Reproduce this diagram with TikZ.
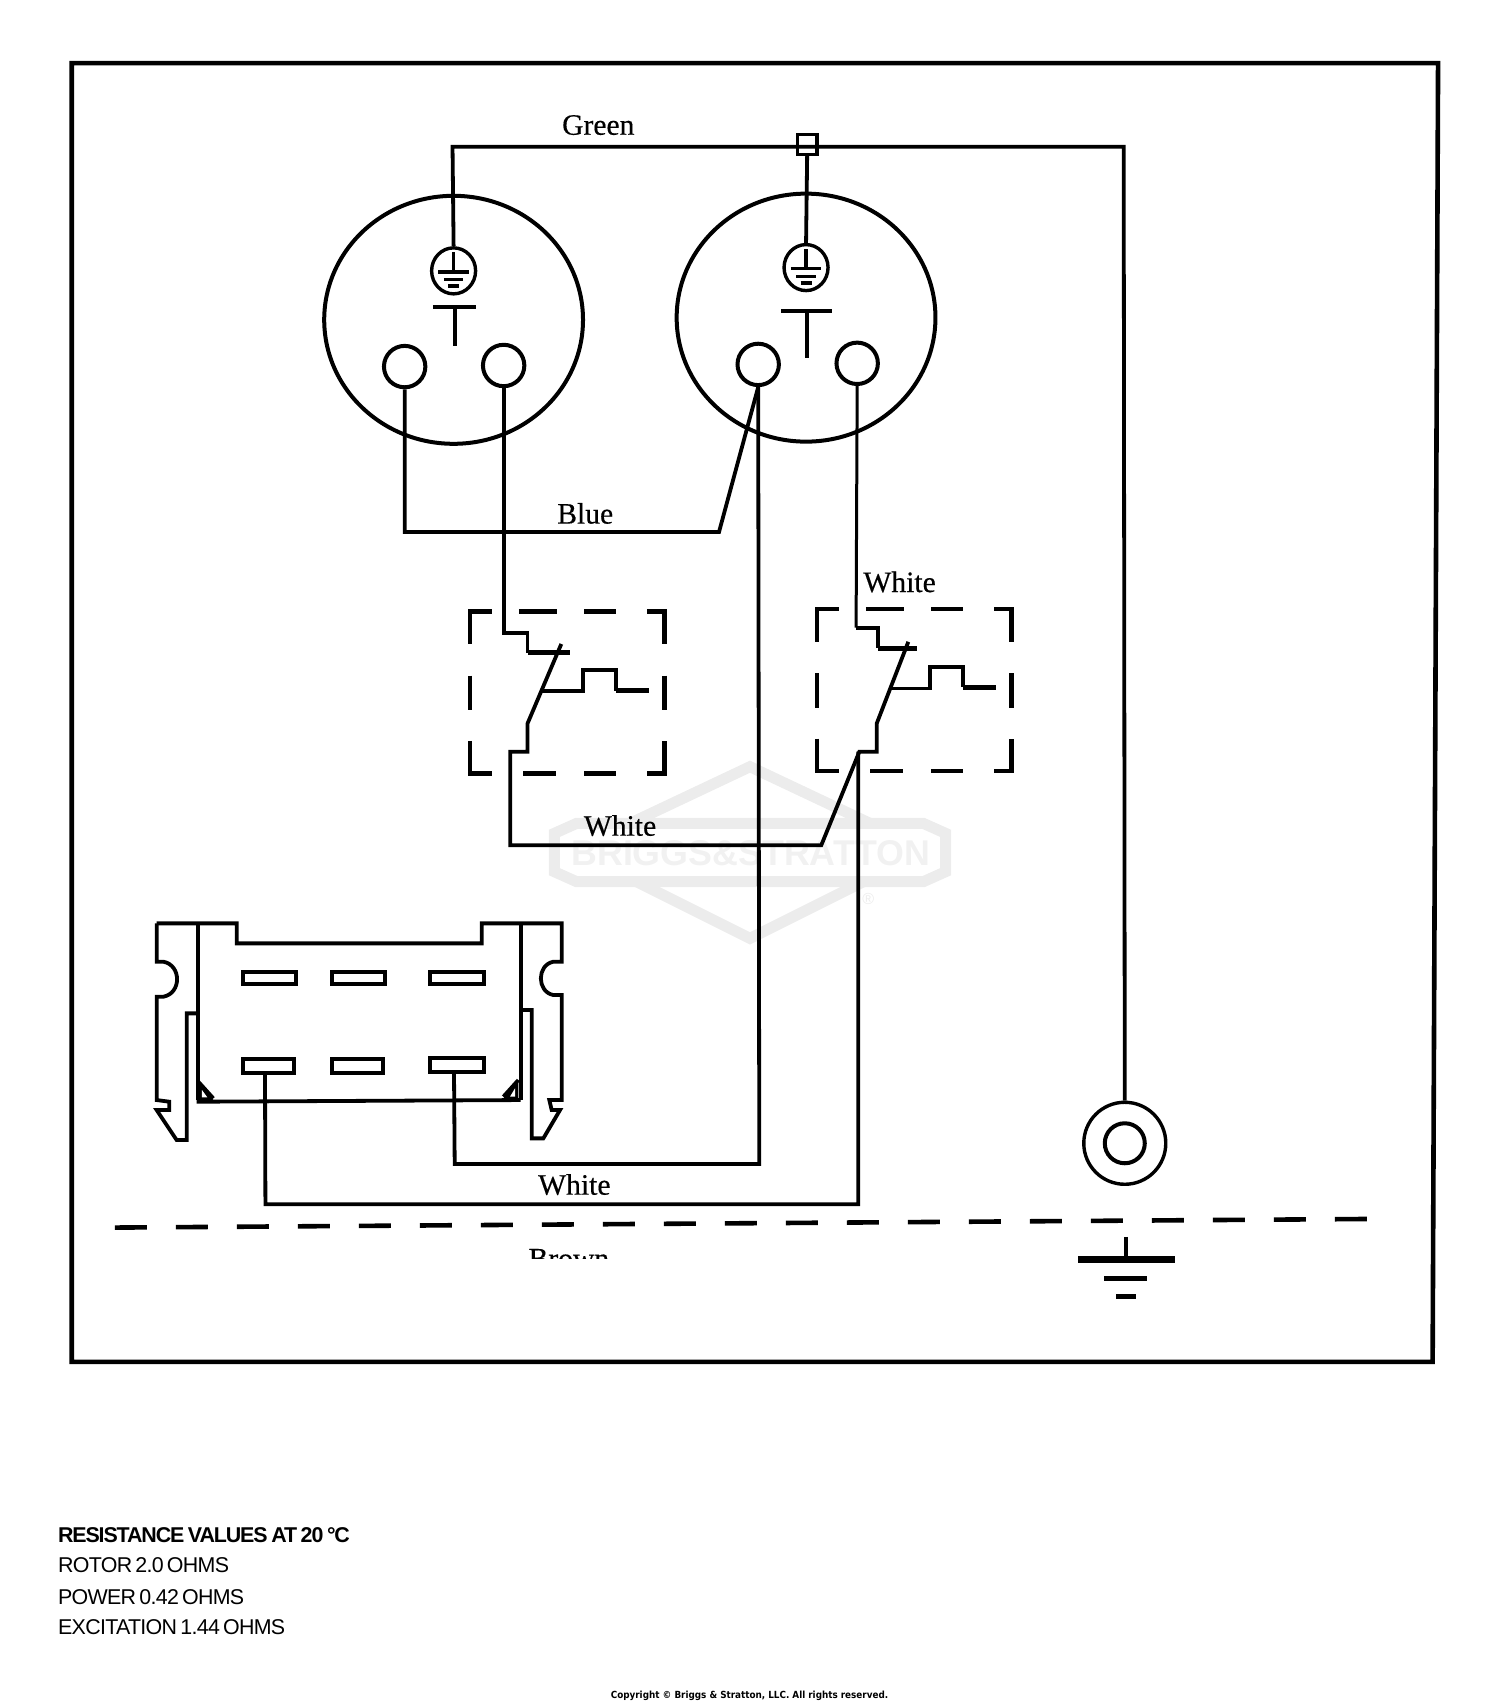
\documentclass[tikz,border=0pt]{standalone}
\usepackage{fontspec}
\setmainfont{Liberation Serif}
\newfontfamily\labelsans{Liberation Sans}
\newfontfamily\valuefont[LetterSpace=-3.2,WordSpace=0.6]{Liberation Sans}
\newfontfamily\valuehead[LetterSpace=-5.2,WordSpace=0.75]{Liberation Sans}
\newfontfamily\copyfont{DejaVu Sans Condensed}
\usetikzlibrary{shapes.geometric}
\definecolor{logogrey}{gray}{0.925}
\definecolor{logotext}{gray}{0.945}
\tikzset{
  wire/.style={line width=1.9pt,line join=miter},
  thin wire/.style={line width=1.5pt},
  thick wire/.style={line width=2.5pt},
  frame/.style={line width=2.3pt},
  socket/.style={ellipse,draw,line width=2pt,inner sep=0pt,minimum width=129.4pt,minimum height=124pt},
  pinhole/.style={circle,draw,line width=2pt,inner sep=0pt,minimum size=20.7pt},
  earthring/.style={ellipse,draw,line width=1.7pt,inner sep=0pt,minimum width=22pt,minimum height=23pt},
  lugring/.style={circle,draw,line width=#1},
  wirelabel/.style={font=\fontsize{14.8}{16}\selectfont\addfontfeatures{FakeBold=0.4},inner sep=0pt},
  valuelabel/.style={anchor=west,inner sep=0pt,font=\fontsize{10.7}{12}\valuefont},
  swbox/.style={line width=2.2pt},
  logo line/.style={draw=logogrey,line width=5.5pt,line join=miter},
}
\newcommand{\earthsign}{%
  \draw[line width=1.7pt] (0,-17)--(0,1) (-14,1)--(14,1);
  \draw[line width=1.7pt] (-9,8)--(9,8);
  \draw[line width=1.7pt] (-5,14)--(5,14);
}
\newcommand{\swdashes}{%
  \draw[swbox] (20,0)--(0,0)--(0,30);
  \draw[swbox] (45,0)--(80,0) (105,0)--(134,0) (163,0)--(179,0)--(179,30);
  \draw[swbox] (0,59)--(0,91) (179,59)--(179,91);
  \draw[swbox] (0,119)--(0,149)--(20,149);
  \draw[swbox] (49,149)--(79,149) (105,149)--(134,149) (163,149)--(179,149)--(179,119);
}
\begin{document}
\begin{tikzpicture}[x=0.5439pt,y=-0.5439pt]
\useasboundingbox (0,0) rectangle (1379,1567.4);
% watermark
\begin{scope}[shift={(487.2,680.3)},x=0.16667pt,y=-0.16667pt]
  \draw[logo line] (73,280)--(140,250)--(1180,250)--(1247,280)--(1247,395)--(1180,425)--(140,425)--(73,395)--cycle;
  \draw[logo line] (300,250)--(660,80)--(1020,250);
  \draw[logo line] (320,425)--(660,595)--(1000,425);
  \node[text=logotext,inner sep=0pt,font=\fontsize{17.9}{20}\labelsans\bfseries] (logo) at (662,338) {BRIGGS\&STRATTON};
  \node[text=logogrey,inner sep=0pt,font=\fontsize{8}{9}\labelsans] (logor) at (1015,478) {®};
\end{scope}
% frame
\draw[frame] (66,58)--(1322,58)--(1317,1252)--(66,1252)--cycle;
% sockets
\node[socket] (sockA) at (417,294) {};
\node[socket] (sockB) at (741,292) {};
\node[pinhole] (a1) at (372,337) {};
\node[pinhole] (a2) at (463,336) {};
\node[pinhole] (b1) at (697,335) {};
\node[pinhole] (b2) at (788,334) {};
\node[earthring] (ea) at (417,249) {};
\node[earthring] (eb) at (741,246) {};
\begin{scope}[shift={(417,249)}]\earthsign\end{scope}
\begin{scope}[shift={(741,246)}]\earthsign\end{scope}
% T marks
\draw[wire] (398,282)--(438,282) (418,282)--(418,318);
\draw[wire] (718,286)--(765,286) (742,286)--(742,329);
% splice box
\node[draw,line width=1.6pt,inner sep=0pt,minimum size=9.8pt] (splice) at (742,133) {};
% lug and ground
\node[lugring=1.7pt,inner sep=0pt,minimum size=41pt] (lug) at (1034,1051) {};
\node[lugring=2pt,inner sep=0pt,minimum size=20pt] (lugin) at (1034,1051) {};
% green wiring
\coordinate (gc) at (1033,135);
\coordinate (gl) at (416,135);
\draw[wire] (ea.north) -- (gl) -- (gc) -- (lug.north);
\draw[wire] (splice.south) -- (eb.north);
% blue wire
\coordinate (blA) at (372,489);
\coordinate (blB) at (661,489);
\draw[wire] (a1.south) -- (blA) -- (blB) -- (b1.south);
% switches
\begin{scope}[shift={(432,562)}]\swdashes\end{scope}
\begin{scope}[shift={(751,560)}]\swdashes\end{scope}
\coordinate (la) at (463,582);
\draw[wire] (a2.south) -- (la) -- (485,582) -- (485,600);
\draw[thick wire] (485,600) -- (524,600);
\draw[wire] (498,635)--(536,635)--(536,616)--(566,616)--(566,635);
\draw[thick wire] (566,635)--(597,635);
\draw[wire] (516,592)--(485,665)--(485,691)--(469,691)--(469,777)--(755,777)--(790,691)--(806,691)--(806,665)--(835,590);
\coordinate (ra) at (787,577);
\draw[thin wire] (b2.south) -- (ra);
\draw[wire] (ra) -- (807,577) -- (807,596);
\draw[thick wire] (807,596) -- (843,596);
\draw[wire] (820,633)--(855,633)--(855,613)--(885,613)--(885,632);
\draw[thick wire] (885,632)--(916,632);
% connector
\begin{scope}[shift={(119.5,827.4)},x=0.16667pt,y=-0.16667pt,line join=miter]
  \draw[wire] (80,70)--(320,70)--(320,130)--(1055,130)--(1055,70)--(1295,70)--(1295,185)--(1270,185)
     .. controls (1220,195) and (1220,275) .. (1270,285)--(1295,285)--(1295,600)--(1258,600)--(1265,630)--(1290,630)--(1240,715)--(1205,715)--(1205,330)--(1172,330);
  \draw[wire] (80,70)--(80,185)--(100,185)
     .. controls (155,195) and (155,280) .. (100,290)--(80,290)--(80,600)--(118,605)--(118,630)--(80,630)--(140,720)--(170,720)--(170,340)--(205,340);
  \draw[wire] (205,75)--(205,600) (1172,75)--(1172,600);
  \draw[wire] (200,605)--(1172,600);
  \draw[wire] (205,545)--(250,595) (1165,540)--(1120,590);
  \fill (205,545)--(250,600)--(205,600)--cycle;
  \fill[white] (216,570)--(232,592)--(216,592)--cycle;
  \fill (1165,540)--(1120,595)--(1165,595)--cycle;
  \fill[white] (1155,565)--(1140,590)--(1155,590)--cycle;
  \draw[wire] (340,215) rectangle (497,252);
  \draw[wire] (605,215) rectangle (765,252);
  \draw[wire] (900,215) rectangle (1062,252);
  \draw[wire] (340,478) rectangle (493,518);
  \draw[wire] (607,478) rectangle (760,518);
  \draw[wire] (900,475) rectangle (1062,515);
  \coordinate (ct1) at (405,518);
  \coordinate (ct2) at (972,515);
\end{scope}
% long runs
\coordinate (w1) at (698,1070);
\coordinate (w2) at (418,1070);
\coordinate (w3) at (789,691);
\coordinate (w4) at (789,1107);
\coordinate (w5) at (244,1107);
\draw[wire] (b1.south) -- (w1) -- (w2) -- (ct2);
\draw[wire] (w3) -- (w4) -- (w5) -- (ct1);
% ground rail
\coordinate (gdl) at (105.7,1128.5);
\coordinate (gdr) at (1256.7,1120.6);
\draw[line width=2.3pt,dash pattern=on 16pt off 14.5pt] (gdl) -- (gdr);
\coordinate (gnd) at (1035,1158);
\draw[wire] (1035,1137) -- (gnd);
\draw[line width=3.2pt] (991,1158)--(1080,1158);
\draw[line width=2.4pt] (1015,1175)--(1054,1175);
\draw[line width=2.4pt] (1026,1192)--(1044,1192);
% labels
\node[wirelabel] (lgreen) at (550,115) {Green};
\node[wirelabel] (lblue) at (538,472) {Blue};
\node[wirelabel] (lw1) at (827,535) {White};
\node[wirelabel] (lw2) at (570,759) {White};
\node[wirelabel] (lw3) at (528,1089) {White};
\begin{scope}
  \clip (440,1140) rectangle (620,1157);
  \node[wirelabel,anchor=base] (lbrown) at (523,1166) {Brown};
\end{scope}
\node[valuelabel,font=\fontsize{10.7}{12}\valuehead\bfseries] (r0) at (53,1411) {RESISTANCE VALUES AT 20 °C};
\node[valuelabel] (r1) at (53,1439) {ROTOR 2.0 OHMS};
\node[valuelabel] (r2) at (53,1468) {POWER 0.42 OHMS};
\node[valuelabel] (r3) at (53,1496) {EXCITATION 1.44 OHMS};
\node[inner sep=0pt,font=\fontsize{4.9}{6}\copyfont\bfseries] (copy) at (689,1559) {Copyright © Briggs \& Stratton, LLC. All rights reserved.};
\end{tikzpicture}
\end{document}
